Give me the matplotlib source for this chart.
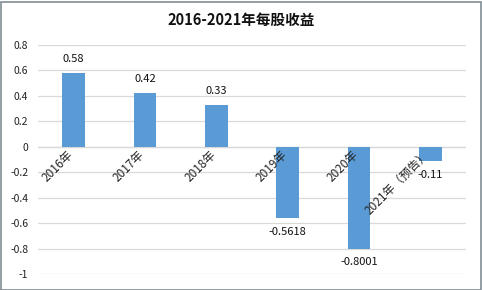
import matplotlib.pyplot as plt
from matplotlib.patches import Rectangle

plt.rcParams['font.family'] = ['Noto Sans CJK SC', 'DejaVu Sans']

categories = ["2016年", "2017年", "2018年", "2019年", "2020年", "2021年（预告）"]
eps = [0.58, 0.42, 0.33, -0.5618, -0.8001, -0.11]
value_labels = ["0.58", "0.42", "0.33", "-0.5618", "-0.8001", "-0.11"]
yticks = [0.8, 0.6, 0.4, 0.2, 0, -0.2, -0.4, -0.6, -0.8, -1]
ytick_labels = ["0.8", "0.6", "0.4", "0.2", "0", "-0.2", "-0.4", "-0.6", "-0.8", "-1"]

W, H = 482, 290
fig = plt.figure(figsize=(W / 100, H / 100), dpi=100)
ax = fig.add_axes([38 / W, 1 - 274 / H, 428 / W, 229 / H])

xs = list(range(len(categories)))
ax.bar(xs, eps, width=0.32, color="#5B9BD5", zorder=3)

ax.set_xlim(-0.5, len(categories) - 0.5)
ax.set_ylim(-1, 0.8)
ax.set_yticks(yticks)
ax.set_yticklabels(ytick_labels, fontsize=7.5, color="#222222")
ax.set_xticks([])
ax.tick_params(axis="y", length=0, pad=7)
ax.grid(axis="y", color="#D9D9D9", linewidth=0.9, zorder=0)
for s in ax.spines.values():
    s.set_visible(False)
ax.axhline(0, color="#D0D0D0", linewidth=0.9, zorder=1)

for x, v, lab in zip(xs, eps, value_labels):
    off = 10 if v > 0 else -10
    ax.annotate(lab, (x, v), xytext=(0, off), textcoords="offset points",
                ha="center", va="center", fontsize=8, color="#111111", zorder=4)

for x, c in zip(xs, categories):
    ax.text(x + 0.03, -0.01, c, rotation=45, ha="right", va="top",
            fontsize=8.5, color="#222222", zorder=5)

fig.text(0.5, 1 - 20 / H, "2016-2021年每股收益", ha="center", va="center",
         fontsize=10.5, fontweight="bold", color="#111111")

fig.patches.append(Rectangle((0.5 / W, 0.5 / H), 1 - 2 / W, 1 - 2 / H,
                             transform=fig.transFigure, fill=False,
                             edgecolor="#7F8C95", linewidth=1.2))

fig.savefig("out.png", dpi=100)
